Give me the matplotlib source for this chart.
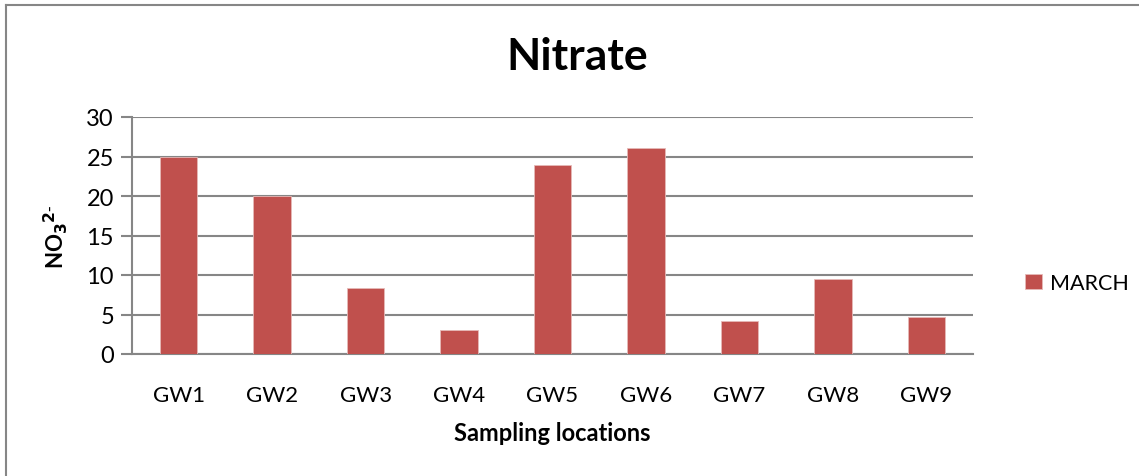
import matplotlib.pyplot as plt
from matplotlib.lines import Line2D

# Data
locations = ['GW1', 'GW2', 'GW3', 'GW4', 'GW5', 'GW6', 'GW7', 'GW8', 'GW9']
march = [25.0, 20.0, 8.4, 3.0, 23.9, 26.1, 4.2, 9.5, 4.7]
yticks = [0, 5, 10, 15, 20, 25, 30]

plt.rcParams['font.family'] = ['Lato', 'DejaVu Sans']

fig = plt.figure(figsize=(11.39, 4.77), dpi=100)
W, H = 1139, 477

# axes placed in pixel terms: left 132, right 973, top 118, bottom 355
ax = fig.add_axes([132 / W, 1 - 355 / H, (973 - 132) / W, (355 - 118) / H])

ax.bar(range(len(locations)), march, width=0.4, color='#C0504D',
       edgecolor='#E6B9B8', linewidth=0.6, label='MARCH', zorder=3)

ax.set_xlim(-0.5, len(locations) - 0.5)
ax.set_ylim(0, 30)
ax.set_yticks(yticks)
ax.set_xticks(range(len(locations)))
ax.set_xticklabels(locations)

ax.grid(axis='y', color='#868686', linewidth=1.5, zorder=0)
for side in ['top', 'right']:
    ax.spines[side].set_visible(False)
ax.spines['left'].set_color('#868686')
ax.spines['left'].set_linewidth(1.5)
ax.spines['bottom'].set_color('#868686')
ax.spines['bottom'].set_linewidth(1.5)

ax.tick_params(axis='y', length=8, width=1.5, color='#868686', labelsize=17, pad=5)
ax.tick_params(axis='x', length=0, labelsize=16, pad=22)

ax.set_xlabel('Sampling locations', fontsize=17, fontweight='bold', labelpad=12)
ax.set_ylabel(r'NO$_\mathbf{3}$$^\mathbf{2\text{-}}$', fontsize=16, fontweight='bold', labelpad=12)

fig.text(577 / W, 1 - 57 / H, 'Nitrate', fontsize=32, fontweight='bold',
         ha='center', va='center')

ax.legend(loc='center left', bbox_to_anchor=(1006 / W, 1 - 284 / H),
          bbox_transform=fig.transFigure, frameon=False, fontsize=15.5,
          handlelength=0.75, handleheight=0.75, handletextpad=0.4)

# outer chart border: only the left and top edges are visible
fig.add_artist(Line2D([6 / W, 6 / W], [0, 1 - 6 / H], transform=fig.transFigure,
                      color='#868686', linewidth=1.5))
fig.add_artist(Line2D([6 / W, 1], [1 - 6 / H, 1 - 6 / H], transform=fig.transFigure,
                      color='#868686', linewidth=1.5))

fig.savefig('out.png', dpi=100)
